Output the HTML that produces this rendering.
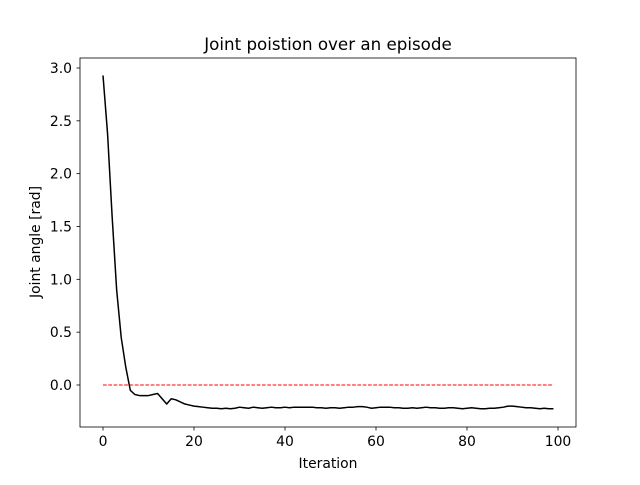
<!DOCTYPE html>
<html><head><meta charset="utf-8"><style>
body{margin:0;background:#fff;}
svg text{font-family:"DejaVu Sans","Liberation Sans",sans-serif;}
</style></head><body>
<svg id="chart" width="640" height="480">
<rect width="640" height="480" fill="#fff"/>
<text x="328" y="50" font-size="16.7" text-anchor="middle">Joint poistion over an episode</text>
<text x="328" y="468" font-size="13.9" text-anchor="middle">Iteration</text>
<text transform="translate(40,242) rotate(-90)" font-size="13.9" text-anchor="middle">Joint angle [rad]</text>
<g id="g"></g>
<rect x="80" y="58" width="496" height="369" fill="none" stroke="#000" stroke-width="0.8"/>
</svg>
<script>
const angles=[2.93,2.38,1.6,0.9,0.45,0.17,-0.05,-0.09,-0.1,-0.1,-0.1,-0.09,-0.08,-0.13,-0.18,-0.13,-0.14,-0.16,-0.18,-0.19,-0.2,-0.205,-0.21,-0.215,-0.22,-0.22,-0.225,-0.22,-0.225,-0.22,-0.21,-0.215,-0.22,-0.21,-0.215,-0.22,-0.215,-0.21,-0.215,-0.215,-0.21,-0.215,-0.21,-0.21,-0.21,-0.21,-0.21,-0.215,-0.215,-0.22,-0.215,-0.215,-0.22,-0.215,-0.21,-0.21,-0.205,-0.205,-0.21,-0.22,-0.215,-0.21,-0.21,-0.21,-0.215,-0.215,-0.22,-0.22,-0.215,-0.22,-0.215,-0.21,-0.215,-0.215,-0.22,-0.22,-0.215,-0.215,-0.22,-0.225,-0.22,-0.215,-0.22,-0.225,-0.225,-0.22,-0.22,-0.215,-0.21,-0.2,-0.2,-0.205,-0.21,-0.215,-0.215,-0.22,-0.225,-0.22,-0.225,-0.225];
const target=[0,0];
const targetIter=[0,99];
const xTicks=[0,20,40,60,80,100];
const yTicks=[-0.5,0,0.5,1,1.5,2,2.5,3];
const NS="http://www.w3.org/2000/svg";
const X=v=>103+v*4.55, Y=v=>385-v*105.67;
const g=document.getElementById('g');
function mk(t,a){const e=document.createElementNS(NS,t);for(const k in a)e.setAttribute(k,a[k]);g.appendChild(e);return e;}
xTicks.forEach(t=>{
 const l=mk('line',{x1:X(t),x2:X(t),y1:427,y2:430.5,stroke:'#000','stroke-width':0.8});
 
 
 const s=mk('text',{x:X(t),y:446,'font-size':13.9,'text-anchor':'middle'});s.textContent=t;
 
 
});
yTicks.forEach(t=>{
 const y=Y(t); if(y<58||y>427)return;
 const l=mk('line',{x1:76.5,x2:80,y1:y,y2:y,stroke:'#000','stroke-width':0.8});
 
 
 const s=mk('text',{x:72,y:y+5,'font-size':13.9,'text-anchor':'end'});s.textContent=t.toFixed(1);
 
 
});
const d=mk('polyline',{points:targetIter.map((v,i)=>X(v)+','+Y(target[i])).join(' '),fill:'none',stroke:'#f00','stroke-width':1,'stroke-dasharray':'3.7,1.6'});


const p=mk('polyline',{points:angles.map((v,i)=>X(i)+','+Y(v)).join(' '),fill:'none',stroke:'#000','stroke-width':1.5,'stroke-linejoin':'round'});


</script>
</body></html>
